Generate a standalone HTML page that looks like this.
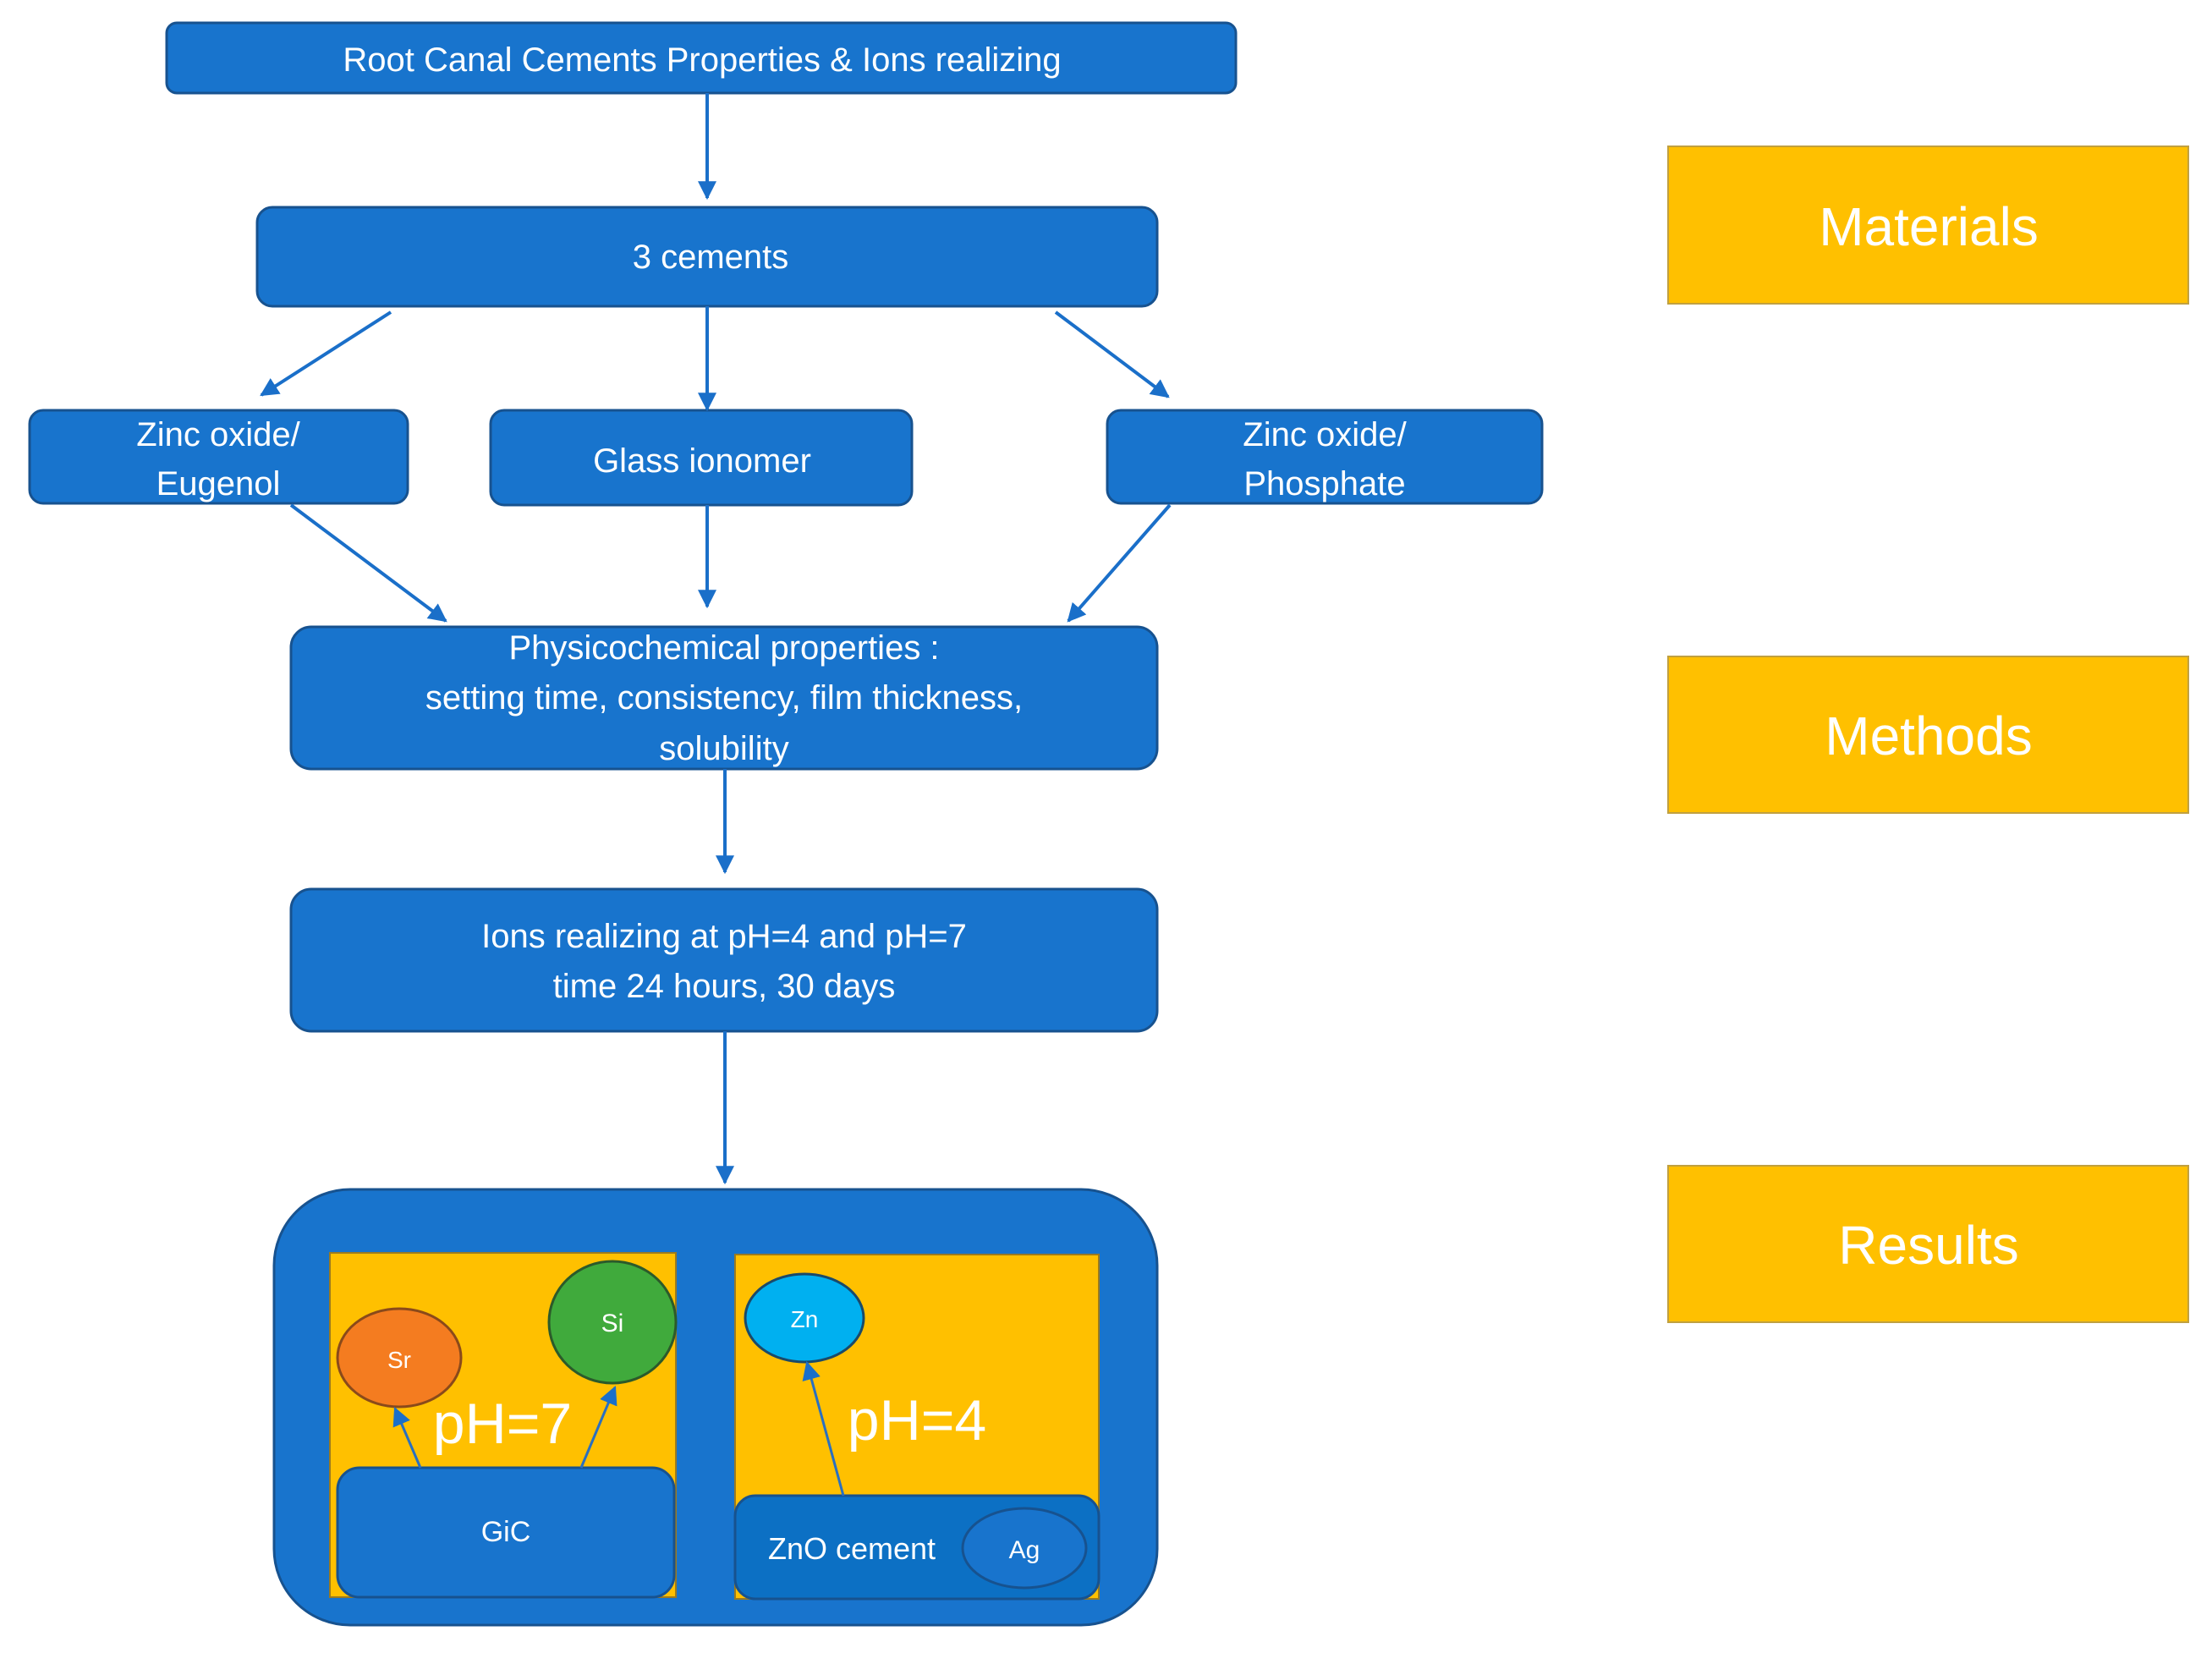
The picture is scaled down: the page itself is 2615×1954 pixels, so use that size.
<!DOCTYPE html>
<html><head><meta charset="utf-8"><style>
html,body{margin:0;padding:0;background:#fff}
svg{display:block}
text{font-family:"Liberation Sans",sans-serif;fill:#fff;text-anchor:middle}
</style></head><body>
<svg width="2615" height="1954" viewBox="0 0 2615 1954" xmlns="http://www.w3.org/2000/svg">
<defs>
<marker id="a" markerWidth="10" markerHeight="10" refX="9" refY="5" orient="auto" markerUnits="userSpaceOnUse" viewBox="0 0 10 10">
</marker>
<marker id="ar" viewBox="0 0 10 10" refX="9" refY="5" markerWidth="22" markerHeight="22" markerUnits="userSpaceOnUse" orient="auto"><path d="M0,0 L10,5 L0,10 z" fill="#1A6FC9"/></marker>
</defs>
<g stroke="#17528f" stroke-width="3" fill="#1874CD">
<rect x="197" y="27" width="1264" height="83" rx="12"/>
<rect x="304" y="245" width="1064" height="117" rx="18"/>
<rect x="35" y="485" width="447" height="110" rx="16"/>
<rect x="580" y="485" width="498" height="112" rx="16"/>
<rect x="1309" y="485" width="514" height="110" rx="16"/>
<rect x="344" y="741" width="1024" height="168" rx="24"/>
<rect x="344" y="1051" width="1024" height="168" rx="24"/>
<rect x="324" y="1406" width="1044" height="515" rx="90"/>
</g>
<rect x="390" y="1481" width="409" height="407" fill="#FFC000" stroke="#9a7a20" stroke-width="2"/>
<rect x="869" y="1483" width="430" height="407" fill="#FFC000" stroke="#9a7a20" stroke-width="2"/>
<rect x="399" y="1735" width="398" height="153" rx="26" fill="#1874CD" stroke="#17528f" stroke-width="3"/>
<rect x="869" y="1768" width="430" height="122" rx="24" fill="#0C70C4" stroke="#17528f" stroke-width="3"/>
<ellipse cx="1211" cy="1830" rx="73" ry="47" fill="#1874CD" stroke="#17528f" stroke-width="3"/>
<ellipse cx="472" cy="1605" rx="73" ry="58" fill="#F47C20" stroke="#8a4a1a" stroke-width="3"/>
<ellipse cx="724" cy="1563" rx="75" ry="72" fill="#40AA3C" stroke="#2c5a2a" stroke-width="3"/>
<ellipse cx="951" cy="1558" rx="70" ry="52" fill="#00B0F0" stroke="#1a4a6a" stroke-width="3"/>
<g fill="#FFC000" stroke="#c0a040" stroke-width="2">
<rect x="1972" y="173" width="615" height="186"/>
<rect x="1972" y="776" width="615" height="185"/>
<rect x="1972" y="1378" width="615" height="185"/>
</g>
<g stroke="#1A6FC9" stroke-width="4" fill="none" marker-end="url(#ar)">
<line x1="836" y1="110" x2="836" y2="234"/>
<line x1="462" y1="369" x2="309" y2="467"/>
<line x1="836" y1="362" x2="836" y2="484"/>
<line x1="1248" y1="369" x2="1381" y2="469"/>
<line x1="344" y1="597" x2="527" y2="734"/>
<line x1="836" y1="597" x2="836" y2="717"/>
<line x1="1383" y1="597" x2="1263" y2="734"/>
<line x1="857" y1="909" x2="857" y2="1031"/>
<line x1="857" y1="1219" x2="857" y2="1398"/>
</g>
<g stroke="#2A6FC0" stroke-width="3" fill="none" marker-end="url(#ar)">
<line x1="497" y1="1735" x2="467" y2="1665"/>
<line x1="687" y1="1735" x2="727" y2="1640"/>
<line x1="997" y1="1768" x2="954" y2="1611"/>
</g>
<g font-size="40">
<text x="830" y="84">Root Canal Cements Properties &amp; Ions realizing</text>
<text x="840" y="317">3 cements</text>
<text x="258" y="527">Zinc oxide/</text>
<text x="258" y="585">Eugenol</text>
<text x="830" y="558">Glass ionomer</text>
<text x="1566" y="527">Zinc oxide/</text>
<text x="1566" y="585">Phosphate</text>
<text x="856" y="779">Physicochemical properties :</text>
<text x="856" y="838">setting time, consistency, film thickness,</text>
<text x="856" y="898">solubility</text>
<text x="856" y="1120">Ions realizing at pH=4 and pH=7</text>
<text x="856" y="1179">time 24 hours, 30 days</text>
<text x="1007" y="1843" font-size="36">ZnO cement</text>
</g>
<text x="598" y="1822" font-size="34">GiC</text>
<text x="1211" y="1842" font-size="30">Ag</text>
<text x="472" y="1617" font-size="28">Sr</text>
<text x="724" y="1574" font-size="30">Si</text>
<text x="951" y="1569" font-size="28">Zn</text>
<text x="594" y="1706" font-size="68">pH=7</text>
<text x="1084" y="1702" font-size="68">pH=4</text>
<g font-size="64">
<text x="2280" y="290">Materials</text>
<text x="2280" y="892">Methods</text>
<text x="2280" y="1494">Results</text>
</g>
</svg>
</body></html>
